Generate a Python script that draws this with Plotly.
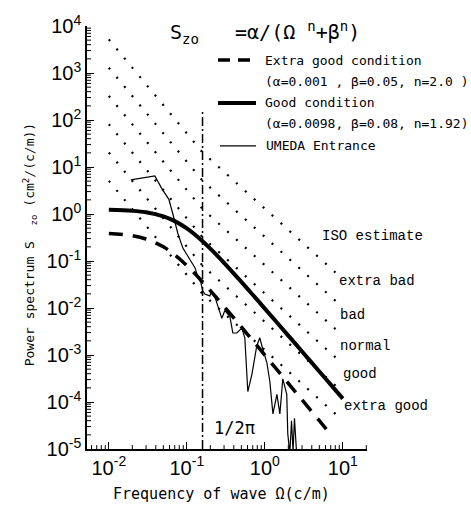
import plotly.graph_objects as go

# ---------------- data ----------------
# Extra good condition model curve (alpha=0.001, beta=0.05, n=2.0)
omega_extra_good = [0.01, 0.02, 0.03, 0.05, 0.07, 0.1, 0.15, 0.2, 0.3, 0.5, 0.7, 1.0, 2.0, 3.0, 5.0, 6.8]
s_extra_good = [0.385, 0.345, 0.294, 0.2, 0.135, 0.08, 0.04, 0.0235, 0.0108, 0.00396, 0.00203,
                0.000998, 0.00025, 0.000111, 0.00004, 0.0000216]

# Good condition model curve (alpha=0.0098, beta=0.08, n=1.92)
omega_good = [0.01, 0.02, 0.03, 0.05, 0.07, 0.1, 0.15, 0.2, 0.3, 0.5, 0.7, 1.0, 2.0, 3.0, 5.0, 7.0, 10.0]
s_good = [1.23, 1.168, 1.085, 0.889, 0.705, 0.493, 0.288, 0.184, 0.0917, 0.036, 0.01914,
          0.00972, 0.00259, 0.001188, 0.000446, 0.000234, 0.0001178]

# UMEDA Entrance measured spectrum
omega_umeda = [0.0191, 0.0389, 0.0478, 0.0588, 0.0662, 0.0767, 0.0889, 0.109, 0.127, 0.138, 0.151,
               0.160, 0.170, 0.197, 0.209, 0.229, 0.249, 0.281, 0.307, 0.356, 0.389, 0.438, 0.507,
               0.554, 0.605, 0.681, 0.789, 0.863, 0.943, 1.06, 1.16, 1.27, 1.43, 1.56, 1.70, 1.91,
               1.97, 2.09, 2.2, 2.3, 2.4, 2.5, 2.6]
s_umeda = [5.3, 6.44, 3.46, 2.05, 1.0, 0.385, 0.188, 0.106, 0.0722, 0.047, 0.0353,
           0.023, 0.0199, 0.0181, 0.023, 0.0172, 0.0107, 0.00603, 0.00883, 0.00663, 0.00294,
           0.00294, 0.00374, 0.00232, 0.000167, 0.000378, 0.00158, 0.00232, 0.00131, 0.0007,
           0.00027, 5.6e-5, 1.45e-4, 5.6e-5, 3.1e-4, 1.45e-4, 2.1e-5, 8e-6, 4e-5, 9e-6, 4.5e-5,
           1e-5, 5e-6]

# ISO estimate class boundaries (dotted lines): values at start, at 1/2pi, at end
iso_omega = [0.01, 0.159, 8.4]
iso_a = [5.07, 0.02, 5.22e-5]
iso_b = [20.3, 0.08, 2.09e-4]
iso_c = [81.1, 0.32, 8.35e-4]
iso_d = [324.0, 1.28, 3.34e-3]
iso_e = [1297.0, 5.12, 1.335e-2]
iso_f = [5187.0, 20.48, 5.34e-2]
iso_lines = [iso_a, iso_b, iso_c, iso_d, iso_e, iso_f]

# 1/2pi marker line
omega_mark = [0.159, 0.159]
s_mark = [1e-5, 160]

iso_labels = ["extra bad", "bad", "normal", "good", "extra good"]

x_tickvals = [0.01, 0.1, 1, 10]
x_ticktext = ["10<sup>-2</sup>", "10<sup>-1</sup>", "10<sup>0</sup>", "10<sup>1</sup>"]
y_tickvals = [1e-5, 1e-4, 1e-3, 1e-2, 1e-1, 1, 10, 100, 1000, 10000]
y_ticktext = ["10<sup>-5</sup>", "10<sup>-4</sup>", "10<sup>-3</sup>", "10<sup>-2</sup>", "10<sup>-1</sup>",
              "10<sup>0</sup>", "10<sup>1</sup>", "10<sup>2</sup>", "10<sup>3</sup>", "10<sup>4</sup>"]

# ---------------- figure ----------------
GOTHIC = "DejaVu Sans Mono"
MINCHO = "Liberation Mono"
TICKF = "Liberation Sans Narrow, Liberation Sans, Arial"

fig = go.Figure()

for vals in iso_lines:
    fig.add_trace(go.Scatter(x=iso_omega, y=vals, mode="lines",
                             line=dict(color="black", width=2.2, dash="2px,10px"),
                             hoverinfo="skip"))

fig.add_trace(go.Scatter(x=omega_mark, y=s_mark, mode="lines",
                         line=dict(color="black", width=1.5, dash="9px,3px,2px,3px")))

fig.add_trace(go.Scatter(x=omega_extra_good, y=s_extra_good, mode="lines", line_shape="spline",
                         line=dict(color="black", width=3.5, dash="14px,10px")))
fig.add_trace(go.Scatter(x=omega_good, y=s_good, mode="lines", line_shape="spline",
                         line=dict(color="black", width=4)))
fig.add_trace(go.Scatter(x=omega_umeda, y=s_umeda, mode="lines",
                         line=dict(color="black", width=1.2)))

fig.update_xaxes(type="log", range=[-2.28, 1.31], showline=True, linecolor="black", linewidth=1.5,
                 ticks="inside", ticklen=7, tickwidth=1.3, tickcolor="black",
                 tickmode="array", tickvals=x_tickvals, ticktext=x_ticktext,
                 tickfont=dict(family=TICKF, size=20, color="black"),
                 showgrid=False, zeroline=False)
fig.update_yaxes(type="log", range=[-5, 4], showline=True, linecolor="black", linewidth=1.5,
                 ticks="inside", ticklen=7, tickwidth=1.3, tickcolor="black",
                 tickmode="array", tickvals=y_tickvals, ticktext=y_ticktext,
                 tickfont=dict(family=TICKF, size=20, color="black"),
                 showgrid=False, zeroline=False)

L, R, T, B = 87, 104, 15, 59
W, H = 471, 508
PW, PH = W - L - R, H - T - B


def px(x):
    return (x - L) / PW


def py(y):
    return (H - B - y) / PH


# minor tick marks drawn as short inside strokes (axis data values)
shapes = []
for k in range(-5, 4):
    for m in range(2, 10):
        v = m * 10.0 ** k
        shapes.append(dict(type="line", xref="paper", yref="y", x0=0, x1=4 / PW, y0=v, y1=v,
                           line=dict(color="black", width=1)))
for k in range(-3, 2):
    for m in range(2, 10):
        v = m * 10.0 ** k
        if 10 ** -2.28 < v < 10 ** 1.31:
            shapes.append(dict(type="line", xref="x", yref="paper", x0=v, x1=v, y0=0, y1=4 / PH,
                               line=dict(color="black", width=1)))

ann = []


def text(s, x, y, size, family, xanchor="left", angle=0):
    ann.append(dict(text=s, x=px(x), y=py(y), xref="paper", yref="paper", showarrow=False,
                    xanchor=xanchor, yanchor="middle", textangle=angle,
                    font=dict(family=family, size=size, color="black")))


text("S<sub>zo</sub>   =α/(Ω <sup>n</sup>+β<sup>n</sup>)", 168, 22, 20, GOTHIC)
text("Extra good condition", 263, 50, 13, GOTHIC)
text("(α=0.001 , β=0.05, n=2.0 )", 263, 72, 13, GOTHIC)
text("Good condition", 263, 93, 13, GOTHIC)
text("(α=0.0098, β=0.08, n=1.92)", 263, 115, 13, GOTHIC)
text("UMEDA Entrance", 264, 138, 13, GOTHIC)

text("ISO estimate", 320, 230, 14, MINCHO)
label_pos = [(337, 277), (338, 312), (338, 343), (341, 372), (342, 405)]
for lab, (lx, ly) in zip(iso_labels, label_pos):
    text(lab, lx, ly, 14, MINCHO)

text("1/2π", 212, 427, 17, GOTHIC)
text("Frequency of wave Ω(c/m)", 221, 495, 15, GOTHIC, xanchor="center")
text("Power spectrum S  <sub>zo</sub> (cm<sup>2</sup>/(c/m))", 30, 240, 13, GOTHIC,
     xanchor="center", angle=-90)

shapes += [
    dict(type="line", xref="paper", yref="paper", x0=px(218), x1=px(256), y0=py(50), y1=py(50),
         line=dict(color="black", width=3.5, dash="12px,8px")),
    dict(type="line", xref="paper", yref="paper", x0=px(218), x1=px(256), y0=py(94), y1=py(94),
         line=dict(color="black", width=4)),
    dict(type="line", xref="paper", yref="paper", x0=px(220), x1=px(256), y0=py(138), y1=py(138),
         line=dict(color="black", width=1.2)),
]

fig.update_layout(width=W, height=H, margin=dict(l=L, r=R, t=T, b=B),
                  plot_bgcolor="white", paper_bgcolor="white", showlegend=False,
                  annotations=ann, shapes=shapes)

fig.write_html("out.html")
